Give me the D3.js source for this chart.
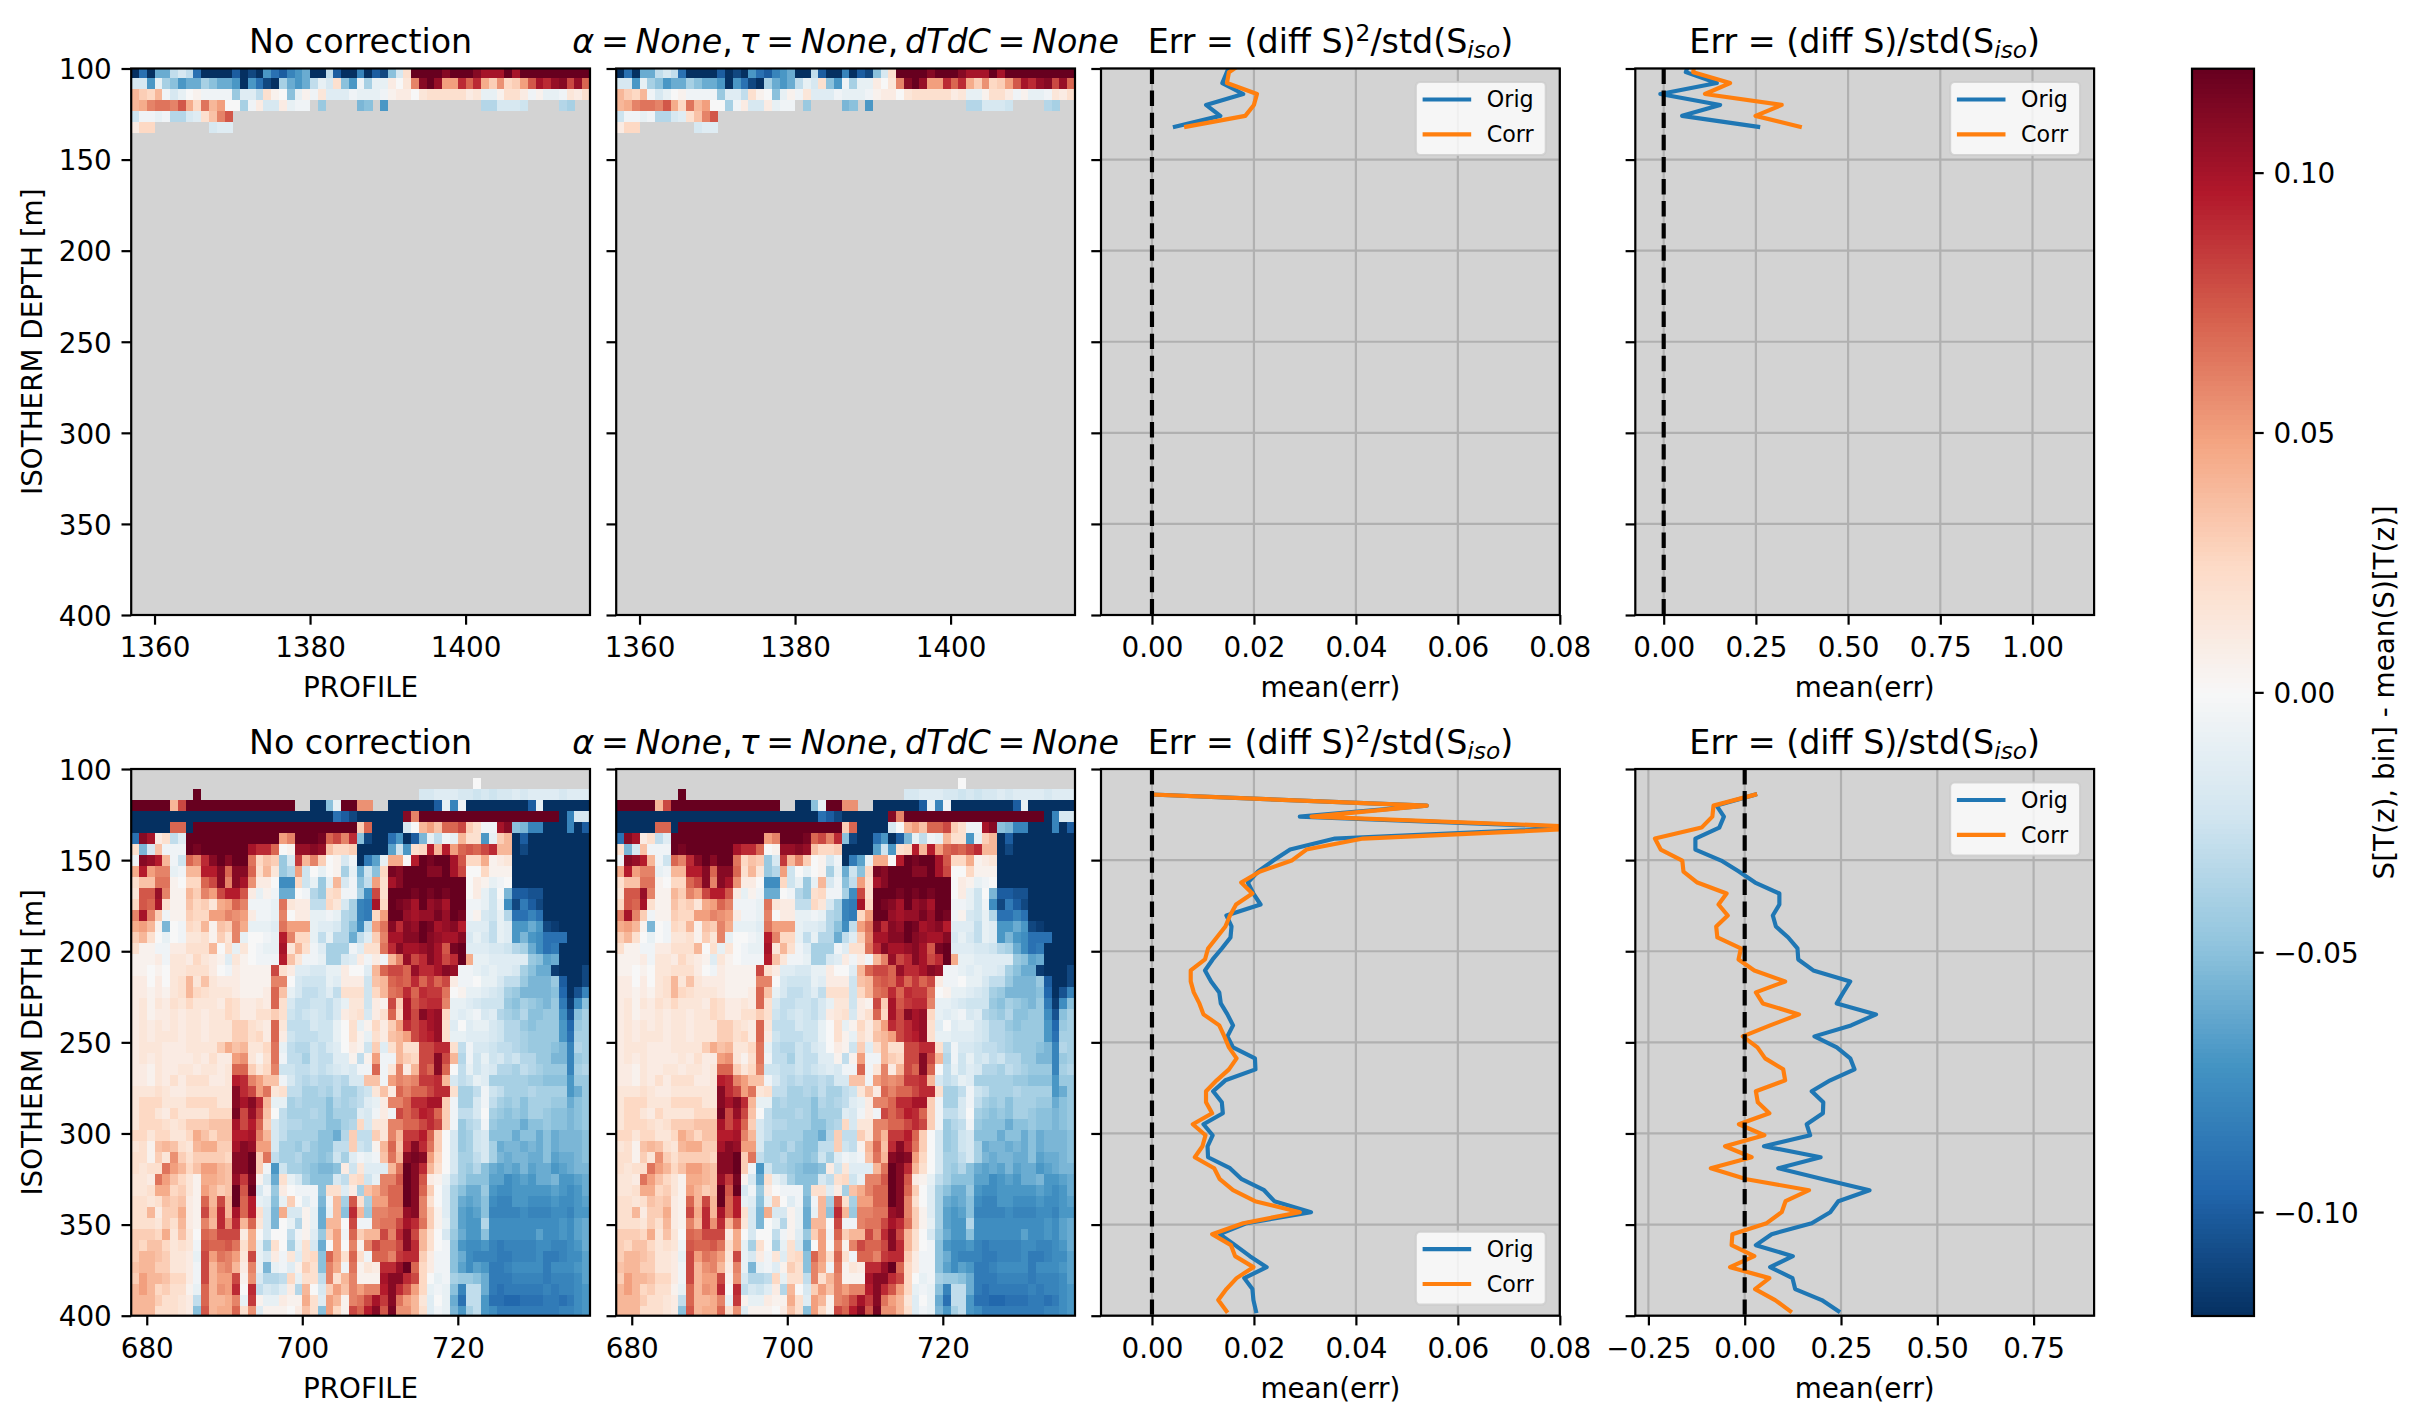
<!DOCTYPE html>
<html>
<head>
<meta charset="utf-8">
<script src="https://cdn.jsdelivr.net/npm/d3@7"></script>
<style>
  body { margin: 0; background: #fff; }
  text { font-family: "DejaVu Sans", sans-serif; fill: #000; }
</style>
</head>
<body>
<svg id="fig" width="2417" height="1423"></svg>
<script>
const N = null;

const depthTicks = [100, 150, 200, 250, 300, 350, 400];
const topProfileTicks = [1360, 1380, 1400];
const bottomProfileTicks = [680, 700, 720];
const errSqTicks = [0, 0.02, 0.04, 0.06, 0.08];
const errTopTicks = [0, 0.25, 0.5, 0.75, 1.0];
const errBottomTicks = [-0.25, 0, 0.25, 0.5, 0.75];
const colorbarTicks = [-0.10, -0.05, 0, 0.05, 0.10];

// salinity anomaly cells, in units of 0.01
const topCells = [
  [-12,-9,-12,-6,-6,-3,-2,-3,-9,-12,-12,-12,-12,-10,-12,-11,-12,-7,-9,-10,-8,-7,-6,-12,-12,-3,-10,-12,-12,-8,-12,-10,-11,-5,-2,2,12,12,12,12,11,12,12,12,11,10,10,10,12,10,12,12,12,12,12,12,12,12,12],
  [-2,-2,-7,-1,-4,-5,-7,-6,-6,-4,-5,-6,-6,-7,-12,-7,-9,-11,-12,-4,-6,-7,-6,-3,-1,-2,2,-5,-7,-0.5,-4,-1,-1,1,0,1.5,6,11,12,10.5,5,5,9,7,9,4.5,3,5.5,2.5,3,5,7.5,10,9,10.5,11,8,10.5,7],
  [4,3,2.5,4,-0.5,-2,-1,0,0.5,-0.5,-0.5,-0.5,-0.5,-4.5,-1.5,-1.5,-3,2,0.5,0,-5,-1,0.5,-0.5,1.5,-1.5,-1.5,-1.5,-0.5,-1,-1,-1,-0.5,0.5,1,1,0,1.5,2,2,2,2,2,1,1.5,-1,-1,0.5,2,2,1,-0.5,0.5,-1,-1,-0.5,1.5,1,2],
  [4,4.5,6,6.5,6.5,6,7.5,4.5,2.5,6.5,4,5,0,0,-4,-0.5,1,-2,-2,1,-1,-0.5,-0.5,N,-4.5,N,N,N,N,-5.5,-5,N,-7,N,N,N,N,N,N,N,N,N,N,N,N,-3.5,-3.5,-2,-2,-2,-2.5,N,N,N,N,-3.5,-4,N,N],
  [-2.5,-0.5,-0.5,-1,-0.5,-3.5,-3.5,-2,-1.5,2,3.5,6,7.5,N,N,N,N,N,N,N,N,N,N,N,N,N,N,N,N,N,N,N,N,N,N,N,N,N,N,N,N,N,N,N,N,N,N,N,N,N,N,N,N,N,N,N,N,N,N],
  [1,2.5,2.5,N,N,N,N,N,N,N,-2,-1.5,-1.5,N,N,N,N,N,N,N,N,N,N,N,N,N,N,N,N,N,N,N,N,N,N,N,N,N,N,N,N,N,N,N,N,N,N,N,N,N,N,N,N,N,N,N,N,N,N]
];

const bottomCells = [
  [N,N,N,N,N,N,N,N,N,N,N,N,N,N,N,N,N,N,N,N,N,N,N,N,N,N,N,N,N,N,N,N,N,N,N,N,N,N,N,N,N,N,N,N,N,N,N,N,N,N,N,N,N,N,N,N,N,N,N],
  [N,N,N,N,N,N,N,N,N,N,N,N,N,N,N,N,N,N,N,N,N,N,N,N,N,N,N,N,N,N,N,N,N,N,N,N,N,N,N,N,N,N,N,N,0,N,N,N,N,N,N,N,N,N,N,N,N,N,N],
  [N,N,N,N,N,N,N,N,12,N,N,N,N,N,N,N,N,N,N,N,N,N,N,N,N,N,N,N,N,N,N,N,N,N,N,N,N,-2,-2,-1.5,-1.5,-1.5,-2,-2,-2.5,-2,-2.5,-2,-2,-1.5,-2,-1.5,-1.5,-1.5,-1.5,-2,-1.5,-1.5,-1.5],
  [12,12,12,12,12,4,8,12,12,12,12,12,12,12,12,12,12,12,12,12,12,N,N,-12,-12,-5,-1,12,12,5.5,5.5,N,N,-12,-12,-12,-12,-12,-12,-10,-1,-8,-0.5,-12,-12,-12,-12,-12,-12,-12,-12,-10,-1,-12,-12,-12,-12,-12,-12],
  [-12,-12,-12,-12,-12,-12,-12,-12,-12,-12,-12,-12,-12,-12,-12,-12,-12,-12,-12,-12,-12,-12,-12,-12,-12,-12,-9,-10,-11,-12,-12,-12,-12,-12,-12,11,6,12,12,12,12,12,12,12,12,12,12,12,12,12,12,12,12,12,12,-12,-8,-2,-2],
  [-12,-12,-12,-12,-12,7,7,-12,12,12,12,12,12,12,12,12,12,12,12,12,12,12,12,12,12,12,12,12,12,3,7,-12,-12,-12,-12,-2,0,4,5,3.5,7,7,8,3,2,-0.5,-0.5,10,11,-5,-5.5,-8,-8,-12,-12,-12,-8,-12,-10],
  [-9,11,10,1,2,-3,-1.5,12,12,12,12,12,12,12,12,12,12,12,12,5,6,12,12,12,11.5,7,8,6,9,-5,-11,-12,-12,-9,-7,-12,-10,-5.5,-1,-3,-0.5,-1,4,2,2,-7,-1,3,4,-12,-10,-12,-12,-12,-12,-12,-12,-12,-12],
  [2,-5.5,-2,3.5,-0.5,-0.5,-0.5,12,11.5,12,12,12,12,12,12,10,9,9,7,0,0.5,10.5,10.5,11,10.5,3.5,2.5,2.5,3,-12,-12,-12,-12,-6.5,-2.5,-7,2,2.5,9.5,4,9.5,5,7,7.5,7,8,9,4,4,-12,-11,-12,-12,-12,-12,-12,-12,-12,-12],
  [-0.5,11,10.5,9.5,4,-0.5,-2.5,7,6,9,11,12,11,12,12,6.5,2.5,3.5,3,-4.5,-2,8.5,4,6,3,0,0.5,-2,-0.5,-12,-8.5,-6.5,-1,4.5,4.5,0,9.5,12,11.5,12,12,10,7.5,2.5,2.5,4.5,0.5,1,1.5,-12,-12,-12,-12,-12,-12,-12,-12,-12,-12],
  [4.5,9.5,5,6,6,-1,-0.5,4,4,9.5,9.5,11,7,11,11,7,2,4,1.5,-4.5,-3.5,5,-2.5,0,-1,0,0.5,-4,-1,-6,-2.5,-5,2.5,11.5,11,12,12,12,11,11,12,10,8,0,0,2.5,0.5,0.5,0.5,-12,-12,-12,-12,-12,-12,-12,-12,-12,-12],
  [2,3.5,3.5,6.5,6.5,0.5,0,2.5,2.5,7,8,11,6,11,10,5.5,1,1,0,-7.5,-7.5,2.5,-2.5,-1,-4.5,-1,4,-2,-0.5,-5,-3,5,2,10,11,12,12,12,12,12,12,12,12,0,1,0.5,-1,-0.5,0,-12,-12,-12,-12,-12,-12,-12,-12,-12,-12],
  [1.5,7.5,7.5,10.5,6,0.5,0.5,4,3,6,5,8,9.5,9.5,7.5,1,-1,0.5,-0.5,-6,-6,0,-0.5,-3.5,-4.5,2,2.5,-0.5,-0.5,-4,-7.5,8,2,12,12,12,11.5,12,11.5,12,11.5,12,12,0,1,-1,-2.5,0,-5.5,-10,-10,-10.5,-10.5,-12,-12,-12,-12,-12,-12],
  [2.5,7.5,7,10,2,0.5,0.5,3.5,2.5,3,1.5,4.5,5,7,6,-0.5,-0.5,-0.5,-1,6.5,1.5,1,1,-3,-3,2.5,1.5,-2,-4,-8,-8.5,10,2.5,12,11.5,11,10,12,10.5,11,10,12,12,-0.5,-0.5,-1,-2.5,-0.5,-7.5,-11,-8.5,-10,-11,-12,-12,-12,-12,-12,-12],
  [6,10,6,3,-0.5,0.5,0.5,3,2.5,2.5,5,5,6,5.5,5,1,-0.5,-0.5,-1,6,0,1,1,-1,-1,-0.5,-1,-3.5,-4,-8,-8.5,2.5,5,12,12,10.5,10,10.5,10.5,11.5,10.5,12,11.5,-0.5,0.5,-2,-2.5,-1,-3.5,-9,-9,-8,-9,-12,-12,-12,-12,-12,-12],
  [4.5,5,4,0.5,-5.5,0,-0.5,2.5,2,4,0.5,3.5,3,6,4.5,-1,-1,-1,-1.5,6.5,5,5,5,-1,-1.5,-1.5,-2,-3.5,-5,-7.5,-3,5,6.5,11,9,11,10.5,12,11.5,10,10.5,11,9.5,-1.5,-1.5,-1.5,-3,-1,-1.5,-7,-7,-6,-7,-11,-11.5,-12,-12,-12,-12],
  [3,4,2,0,-1,0,-0.5,1.5,1.5,2,0.5,3,1.5,6,-1,0,0,-0.5,-1,9.5,6,2.5,2.5,-1,-3,-1,-3.5,-3.5,-6,-3,-1.5,3,6,10,10,11,11,12,11,10.5,10,10,11,-2,-1,-2,-3,-1,-1.5,-7,-5.5,-7,-7.5,-9,-9,-9,-12,-12,-12],
  [2,0.5,0.5,-0.5,-0.5,1,1,2,2,2,4,0,2,-1,1.5,0,-0.5,-1,-1,10,1.5,4,2,-0.5,-1.5,-4,-4,-4,-0.5,-1.5,2,2,6.5,9,11,10,10,10.5,11,10,7.5,11.5,12,-1.5,-1.5,-1.5,-2,-2,-2.5,-3.5,-4,-6,-7.5,-9,-8.5,-12,-12,-12,-12],
  [0.5,0.5,0.5,1,-0.5,1.5,1.5,1,2.5,1.5,1,0.5,-1.5,1.5,0.5,0,-0.5,-0.5,-0.5,9.5,3.5,1.5,-0.5,-0.5,-1,-4,-4,-2,-1.5,1,-0.5,1,-0.5,4,6,10.5,8,9,11,10,8,9,12,4.5,-1,-1,-1.5,-1.5,-1.5,-1.5,-1.5,-4.5,-5,-6.5,-6,-12,-12,-12,-12],
  [0.5,0.5,0,0.5,0,1.5,1.5,2,2,2,1,0,-0.5,1,0.5,0.5,0.5,0.5,8,2,1,-1.5,-1.5,-2,-2,-1,-1,1,0,0,-1.5,4,7,8,8,7,10.5,9,9,10,11,10.5,-0.5,-0.5,-1,-1.5,-1,-1.5,-1.5,-2,-4,-5,-6,-6,-11.5,-12,-12,-12,-11],
  [1,1,0,1,0,1.5,2,4,1.5,3.5,1.5,1,1,1,0.5,0.5,0.5,0.5,6,6,0,-2,-2.5,-2.5,-2.5,-1,-1.5,1,1,1,-2.5,3.5,4,7,7.5,7,9,7,8.5,7,8,1,-0.5,-0.5,0,-1,-1,-2,-3,-3,-4.5,-5.5,-5.5,-5.5,-4.5,-10,-12,-12,-11],
  [1,1,0.5,1,0.5,1.5,2,4,2.5,2,1.5,1.5,1.5,1,0.5,0.5,0.5,1,7,3.5,-1,-2,-3,-3,-2.5,-1.5,-3,2,2,2,-2.5,2.5,4,6.5,7,9,7,9,8.5,8.5,6.5,0,0.5,-1,-1,-1.5,-2,-2.5,-4,-4.5,-5.5,-5.5,-5.5,-5.5,-5,-9.5,-12,-10.5,-8],
  [1,1.5,0.5,1.5,1,2,1.5,2.5,1.5,1.5,1.5,1,2.5,2,1,1,1.5,1,7,2,-2,-3,-3,-2.5,-2.5,-3,-2,-1,1.5,1.5,-2.5,1,0.5,8,3,10,7.5,8.5,9,9,6,-1,-1,-1.5,-2,-2.5,-2.5,-2.5,-4.5,-5,-4,-4.5,-5,-5.5,-4.5,-8.5,-11.5,-7.5,-5],
  [1,1.5,0.5,1,1,1.5,1,1.5,1.5,1,1.5,1.5,2.5,2,1,1,2,2,3,2,-2.5,-3,-2.5,-2,-2.5,-3,-2,1,1.5,2,-2,1,2,7,2.5,10,8,11,10,10.5,2.5,-1,-1.5,-1,-0.5,-2,-1.5,-3.5,-4,-4.5,-3.5,-5,-5,-4.5,-4.5,-7.5,-10.5,-5,-4],
  [1,1.5,1,1.5,1,1.5,1,1.5,1.5,1,1.5,1.5,1.5,3,3,2,1.5,1,7,1.5,-3,-3,-3,-2,-2.5,-2.5,-1,0,2,-1,0.5,2.5,1,3,5,9,8,9,10,10.5,2,-1.5,0,-1.5,-1,-1,-2,-2.5,-3.5,-3.5,-4.5,-5,-4.5,-4.5,-4.5,-7,-9.5,-4.5,-4],
  [1,1.5,1,1.5,1.5,1.5,1,1.5,1.5,1,1.5,1.5,1.5,3,3,2,2.5,1,7,1,-2.5,-3,-3,-3,-2.5,-2.5,-1,0,2,0.5,-1,2,1,3.5,4,5,8,9,9.5,10.5,2,-1,-1,-1.5,-1.5,-1.5,-2,-2.5,-3.5,-3.5,-4,-4.5,-4.5,-4.5,-4.5,-7,-9,-4,-4],
  [1,1.5,1.5,1.5,1,1,1,1.5,1.5,1.5,1.5,3,4.5,3.5,4,1.5,1.5,2.5,6.5,-1,-3,-3.5,-3.5,-2.5,-3,-2,-1.5,0,1,0.5,-2.5,3,-1.5,2,4,2,2,8,8,9,9,2,-3,-0.5,-2,-2,-2.5,-3,-3,-3.5,-4,-4.5,-4.5,-4.5,-5,-5.5,-8,-3.5,-4],
  [1,1.5,1,1.5,1,1,1,1,1.5,1,2,1,1,5,5.5,1.5,0.5,2,6.5,-0.5,-3,-3,-4,-2.5,-3,-3,-1.5,-1.5,0.5,-3,0.5,5,-0.5,-0.5,4,3,2.5,8,8,11,8,4,-3.5,-0.5,-2.5,-1,-2.5,-2,-3,-2.5,-3.5,-3.5,-4.5,-4.5,-5.5,-5.5,-8,-4.5,-4],
  [1,1,0.5,1.5,1,1,1.5,1.5,1,1.5,1.5,1,1.5,7,7,3,1.5,2.5,6,-2.5,-2.5,-3,-3,-2.5,-3,-2.5,-2,-1.5,-2,-0.5,-0.5,7,-0.5,1.5,6,1,4,8,7,11,7,0,-3,-1,-2.5,-1.5,-2,-3.5,-3.5,-4,-3,-3.5,-4,-4.5,-4.5,-4.5,-8,-4,-3.5],
  [1,1,0.5,1.5,1,2,1,2,2,2,1,1,1.5,9.5,9,6,5,3.5,3.5,-0.5,-2,-3,-3.5,-3,-3.5,-3.5,-3,-3.5,-2,-2,3.5,3.5,-0.5,5,6,5.5,6,8.5,8.5,9,4,-2,-3,-2.5,-1,-1.5,-4,-4,-4,-4,-4,-4.5,-4.5,-5,-5,-5,-7,-4.5,-4.5],
  [1.5,1.5,1.5,2,1.5,1,1,1.5,1.5,1.5,1.5,1.5,1.5,11,9,8,5,6.5,1.5,2,-3,-3,-4,-4,-3.5,-4,-3,-4,-4,-3,-2.5,1.5,3.5,1,7,6,7,7,8,9,9,2,-4,-4,-3,-0.5,-2.5,-3,-4,-4,-4,-3.5,-4,-4,-4,-4,-7,-6,-4.5],
  [1.5,2.5,2.5,2.5,1.5,1.5,1.5,2.5,2.5,2.5,2.5,1.5,1.5,11,10,11,9,4,-1,-1,-4,-3.5,-4,-4,-4,-5,-3.5,-4,-3.5,-3,-1.5,-1,1,6,6,7,9,9,10,10,3,-0.5,-4,-4,-2,-0.5,-3,-4,-4.5,-4,-5,-4,-4,-4,-4.5,-4.5,-6,-5,-4.5],
  [1.5,2.5,2.5,1.5,1,2.5,1.5,1.5,1.5,1.5,2.5,2.5,2.5,11.5,8,10.5,8,3.5,0,-3,-4,-4,-4,-3.5,-4,-5,-4,-4,-4,-1.5,-2,-0.5,1,-0.5,8,7,8,9.5,9,7,3,-0.5,-3,-3,-2,0,-4,-4.5,-5,-4.5,-5,-4,-4,-4.5,-5,-5,-5.5,-5,-4.5],
  [1.5,2.5,2.5,2.5,2,1.5,2,3,3,3,3.5,3.5,3.5,10,8,9.5,7,3,-2,-3,-3.5,-3.5,-4,-4,-4,-5,-5,-4,-3.5,2.5,-2,1.5,1.5,6,6,7,7,8,9,8,3,-0.5,-4.5,-3.5,-3,-0.5,-4.5,-5,-5,-5,-6,-5,-5,-4.5,-5,-5,-5.5,-5,-4.5],
  [2.5,2.5,1.5,2.5,2.5,1.5,1.5,2.5,4.5,3.5,2.5,3.5,3.5,9.5,9.5,10,6,4,-2,-3,-4,-4,-4,-4,-5,-5,-6,-3.5,3,-3,-3,3,1.5,6,4,8.5,8.5,9.5,7,3,0,-2,-4.5,-4,-2.5,-2,-5,-5,-5,-6,-5,-5,-6,-5,-6,-5.5,-5.5,-5.5,-5],
  [1.5,2,0.5,3.5,4,3.5,2,1.5,4,4.5,4.5,3,3,10,11,10.5,5,5,-2,-4,-4,-4.5,-3.5,-4.5,-5,-5,-3,-3,3,-2.5,-3,0.5,4,7,3.5,9,11,9,6.5,3,0,-2,-4.5,-4,-2.5,-2,-4,-6,-5.5,-5.5,-6,-5.5,-6,-5,-6,-5.5,-5.5,-5.5,-5],
  [2,2,0.5,3,1.5,5.5,3,2,3,3,3,3,2.5,11,11,12,3,6.5,-3,-4,-4,-3.5,-4.5,-4.5,-5,-4.5,-2.5,-4,-1.5,-0.5,-1,-0.5,3.5,6.5,4,11,11.5,11,5,2.5,0,-2,-4,-4,-3,-2,-4,-5.5,-6,-5.5,-5.5,-6,-6,-5,-6.5,-6,-6,-5.5,-5],
  [2,1.5,2,2,6.5,5,4,2.5,3.5,5,5,4,3.5,11,11,12,3,-0.5,-7,-2.5,-4,-4,-4.5,-5,-5.5,-5.5,-5,1,-2.5,1.5,-1.5,-1.5,-1.5,4,6.5,12,11,9,4,2,0,-2,-4,-4.5,-3.5,-5,-6,-6.5,-6,-6.5,-5.5,-6.5,-6,-6,-7,-6.5,-6,-5.5,-5.5],
  [1.5,1.5,1,6.5,5,3.5,2.5,1.5,0.5,4.5,4.5,4,3.5,10.5,8.5,11.5,0.5,-2,-6,2,-1,-2,-4,-5,-5,-5,-2,-3,2,2.5,-2.5,-1,6,6,7.5,12,11,7.5,1,0.5,-1,-3,-4,-5,-5,-5,-6.5,-6.5,-7.5,-7,-6.5,-7,-6,-6,-5.5,-7,-7,-6.5,-6],
  [1.5,1.5,2,4.5,4.5,2.5,3,1.5,0.5,5,4,3,3.5,12,7.5,12,-2,-0.5,-4.5,1,0,-0.5,-0.5,-0.5,-5,2,2,-1.5,1,-4,3.5,4.5,6,7,7,12,11,7,3,0,-1.5,-4,-5,-6,-6,-4.5,-7,-7.5,-7.5,-7,-7,-7,-7,-7,-6.5,-7,-7.5,-7,-6],
  [2,2,1.5,2,3.5,3,3.5,1,0.5,7,4,8,4,12,7,9.5,-1,-1.5,-5,-1,3,0,-1.5,-0.5,-5.5,-0.5,4,-4,7.5,2,-4,5,5,7,7,12,11,6,2,0,-1.5,-4,-6,-6.5,-6,-5,-7.5,-8,-8,-7,-7,-7.5,-7.5,-7.5,-7,-7.5,-7.5,-7,-6.5],
  [2,2,4,1,3,3,4.5,1,0.5,8,4.5,9,4,10,7,9.5,2,-2,-5.5,4.5,-2,-2,0.5,-1,-6,-1,4,-5,9,4,-4.5,6,6,6.5,6.5,10.5,11,6,3,0.5,-1.5,-4,-6.5,-7,-6.5,-5,-8,-8,-8,-8,-7.5,-8,-8,-8,-7.5,-7.5,-8,-7,-7],
  [2,2,2,1.5,3,2,4,1,0.5,6,4,9,5.5,9,4,7,1.5,-2,-5.5,0,-1,-3.5,0.5,-1,-6,4,4,0,8,-0.5,-0.5,6,6.5,6.5,8,10,9,6.5,3,0.5,-1,-4,-6.5,-7,-7,-3.5,-7.5,-7.5,-7.5,-7.5,-7.5,-7.5,-7.5,-7.5,-7.5,-7,-7.5,-6.5,-6],
  [3,3,3,2.5,4.5,1.5,3.5,1.5,0,7,6.5,8,8,8,1,4.5,0,-2,0,0,-3,-0.5,0.5,-1.5,-4.5,3,5,-0.5,7,3,4,4,8,6,9,11,8,4,2,0,-2,-4.5,-6,-7,-7,-5,-7.5,-7.5,-7.5,-7.5,-7.5,-7.5,-6.5,-7.5,-7.5,-7,-7.5,-6.5,-6],
  [3,2.5,3.5,3.5,2.5,1.5,2,1.5,-0.5,7.5,7,7,7.5,6.5,2,4.5,-1,-4,2,0,-4,-1,2,-2,-6,0,5,0,6,0.5,6,8,7,7,8,11,9,4,2,0,-0.5,-5,-7,-7.5,-7.5,-7,-8,-8.5,-8,-8,-8,-8,-7.5,-7.5,-8,-8,-7.5,-7,-6],
  [3,4,4,3.5,3,1.5,1.5,1,-1,8,5,6.5,6,5,1.5,8,-1,-2,1,-0.5,1.5,-1.5,2,2.5,-5,7,5,2,7,2,-0.5,7,7,6,8.5,9,9,3,1,-0.5,-0.5,-5,-6,-7.5,-8,-8,-8,-8.5,-8.5,-8,-8,-8,-7.5,-8.5,-8.5,-8,-7.5,-7.5,-6.5],
  [3.5,4,4,3,3,1.5,1.5,1,-0.5,8,4,5.5,6,4,1,6,-1,-5.5,-1,-0.5,-1.5,0.5,3,2,-5,6,4.5,-0.5,6.5,0.5,1.5,1,9,9,10.5,12,7,2.5,1,-0.5,-0.5,-5,-6.5,-7.5,-6.5,-7,-8.5,-8.5,-8,-7.5,-7.5,-7.5,-7.5,-8.5,-7.5,-7.5,-7.5,-7,-6.5],
  [3,5,4,4,3.5,2.5,2.5,1,-0.5,8,4,5,5,8,0.5,5.5,-2,-3.5,-3.5,-3,2.5,-1,2,2,-3,6,2,4,6,0.5,0.5,0.5,10,11,11,9,8,2.5,0,-1,-0.5,-4,-4.5,-4.5,-5,-6,-8.5,-8.5,-8.5,-8,-8,-8,-8,-8.5,-8,-8,-8,-7.5,-6.5],
  [4,5,4,2.5,3,2,2,0.5,-1,7,4,5.5,5,9,0,9,-3,-2,-2.5,-1.5,1,-3.5,4,0,-2,3,5,3.5,6,5,6,6,9.5,11,9,7.5,5,2.5,-1,-0.5,-1,-5,-8,-3,-3,-6,-8.5,-9,-8.5,-8.5,-8.5,-8.5,-8.5,-8,-8.5,-8,-8,-7.5,-7],
  [4,4,4,3,2,2,1.5,1,-3,7,4,4,4.5,6,-1,8.5,0.5,-1,-1,1,0.5,0.5,4.5,2,-1.5,5,4,0.5,6,6.5,8,10,8.5,11,6.5,5,4,1.5,-1.5,0,-1,-6,-9,-3,-3,-7,-9,-9,-9.5,-9.5,-9,-9,-9,-8.5,-8.5,-9,-8.5,-7.5,-7],
  [4,4,4,2,2,2,1.5,1,-5,7.5,4,4.5,4.5,7,2,5.5,-1.5,0.5,0.5,0.5,0,1,3.5,2,-5,5,2.5,0.5,8,7,9.5,11,7.5,11.5,5.5,5.5,4,2,-1.5,-0.5,-1,-5.5,-7,-4,-3,-7,-7.5,-8.5,-8.5,-8.5,-8.5,-8.5,-8.5,-8.5,-8.5,-8,-8,-7.5,-7]
];

// mean error profiles, top row starts one bin above the axis and gets clipped
const topDepths = [96, 102, 108, 114, 120, 126, 132];
const topErrSqOrig = [0.0155, 0.0147, 0.0138, 0.0179, 0.0106, 0.0134, 0.0045];
const topErrSqCorr = [0.0183, 0.0151, 0.0147, 0.0206, 0.02, 0.0183, 0.0067];
const topErrOrig = [0.07, 0.06, 0.144, -0.009, 0.153, 0.05, 0.256];
const topErrCorr = [0.085, 0.08, 0.18, 0.112, 0.32, 0.249, 0.369];

const bottomErrSqOrig = [0.0002,0.0539,0.029,0.085,0.0359,0.0271,0.0238,0.0208,0.0188,0.0199,0.0213,0.0146,0.0156,0.0154,0.0137,0.0119,0.0104,0.0116,0.0132,0.0135,0.0148,0.0159,0.0148,0.0159,0.0202,0.0203,0.0144,0.012,0.0137,0.0139,0.0101,0.0119,0.0109,0.011,0.0153,0.0176,0.022,0.024,0.0312,0.0186,0.0133,0.0163,0.0192,0.0225,0.0181,0.0197,0.0199,0.0204];
const bottomErrSqCorr = [0.0001,0.0539,0.0313,0.088,0.0414,0.0303,0.0274,0.0212,0.0175,0.0197,0.0165,0.0153,0.0144,0.0127,0.011,0.0104,0.0076,0.0076,0.0082,0.0093,0.0101,0.0132,0.0142,0.0151,0.0166,0.0151,0.0127,0.0106,0.0106,0.0118,0.008,0.0105,0.0099,0.0084,0.0122,0.0133,0.0159,0.0202,0.029,0.0179,0.0118,0.0155,0.0163,0.0199,0.0166,0.0146,0.013,0.0146];
const bottomErrOrig = [0.027,-0.073,-0.054,-0.066,-0.128,-0.128,-0.061,-0.015,0.027,0.09,0.09,0.073,0.081,0.113,0.137,0.139,0.178,0.274,0.256,0.239,0.341,0.276,0.181,0.239,0.274,0.285,0.222,0.174,0.204,0.203,0.161,0.17,0.05,0.197,0.087,0.204,0.324,0.243,0.222,0.174,0.07,0.029,0.125,0.066,0.124,0.131,0.2,0.243];
const bottomErrCorr = [0.027,-0.081,-0.084,-0.112,-0.233,-0.218,-0.162,-0.159,-0.123,-0.047,-0.068,-0.044,-0.074,-0.071,-0.01,-0.016,0.025,0.105,0.029,0.047,0.141,0.066,-0.005,0.033,0.053,0.1,0.105,0.029,0.034,0.064,-0.015,0.051,-0.051,0.018,-0.088,0.005,0.167,0.106,0.096,0.057,-0.032,-0.034,0.025,-0.038,0.064,0.027,0.079,0.118];

const rdBuStops = ['#053061','#2166ac','#4393c3','#92c5de','#d1e5f0','#f7f7f7','#fddbc7','#f4a582','#d6604d','#b2182b','#67001f'];
const colorScale = d3.scaleLinear()
  .domain(d3.range(11).map(i => -0.12 + i * 0.024))
  .range(rdBuStops)
  .clamp(true);

const svg = d3.select('#fig');
const TICK = 9.7, PAD = 9.7, FS = 27.8, TITLE_FS = 33.3;
const ROWS = [{ top: 68.5, bottom: 615 }, { top: 769, bottom: 1315.7 }];
const COLS = [131.2, 616.2, 1101, 1635.3];
const WIDTH = 458.8;
const BLUE = '#1f77b4', ORANGE = '#ff7f0e', BG = '#d3d3d3', GRID = '#b0b0b0';

const yDepth = row => d3.scaleLinear().domain([100, 400]).range([row.top, row.bottom]);
let clipCount = 0;

// ticks, spines, labels shared by every panel
function drawFrame(g, row, x, y, xTicks, fmt, showYLabels) {
  const bottom = row.bottom;
  const xAxis = d3.axisBottom(x).tickValues(xTicks).tickFormat(fmt).tickSize(TICK).tickPadding(PAD + 3);
  const yAxis = d3.axisLeft(y).tickValues(depthTicks).tickSize(TICK).tickPadding(PAD);
  if (!showYLabels) yAxis.tickFormat('');
  const gx = g.append('g').attr('transform', `translate(0,${bottom})`).call(xAxis);
  const gy = g.append('g').attr('transform', `translate(${x.range()[0]},0)`).call(yAxis);
  [gx, gy].forEach(a => {
    a.select('.domain').remove();
    a.selectAll('line').attr('stroke', '#000').attr('stroke-width', 2.2);
    a.selectAll('text').attr('font-size', FS).attr('font-family', '"DejaVu Sans"').attr('fill', '#000');
  });
  gy.selectAll('text').attr('dy', '0.37em');
  g.append('rect')
    .attr('x', x.range()[0]).attr('y', row.top)
    .attr('width', x.range()[1] - x.range()[0]).attr('height', row.bottom - row.top)
    .attr('fill', 'none').attr('stroke', '#000').attr('stroke-width', 2.2);
}

function heatPanel(left, row, cells, firstProfile, xTicks, showYLabels, xLabel) {
  const g = svg.append('g');
  const x = d3.scaleLinear().domain([firstProfile, firstProfile + 59]).range([left, left + WIDTH]);
  const y = yDepth(row);
  g.append('rect').attr('x', left).attr('y', row.top).attr('width', WIDTH).attr('height', row.bottom - row.top).attr('fill', BG);

  const id = 'clip' + (clipCount++);
  g.append('clipPath').attr('id', id).append('rect')
    .attr('x', left).attr('y', row.top).attr('width', WIDTH).attr('height', row.bottom - row.top);

  const flat = [];
  cells.forEach((vals, r) => vals.forEach((v, c) => {
    if (v !== null) flat.push({ r, c, v: v / 100 });
  }));
  g.append('g').attr('clip-path', `url(#${id})`).attr('shape-rendering', 'crispEdges')
    .selectAll('rect').data(flat).join('rect')
    .attr('x', d => x(firstProfile + d.c))
    .attr('width', d => x(firstProfile + d.c + 1) - x(firstProfile + d.c) + 0.3)
    .attr('y', d => y(99 + 6.03 * d.r))
    .attr('height', d => y(105.03 + 6.03 * d.r) - y(99 + 6.03 * d.r) + 0.3)
    .attr('fill', d => colorScale(d.v));

  drawFrame(g, row, x, y, xTicks, d3.format('d'), showYLabels);
  if (xLabel) {
    g.append('text').attr('x', left + WIDTH / 2).attr('y', row.bottom + 82)
      .attr('text-anchor', 'middle').attr('font-size', FS).text('PROFILE');
  }
  if (showYLabels) {
    g.append('text')
      .attr('transform', `translate(42,${(row.top + row.bottom) / 2}) rotate(-90)`)
      .attr('text-anchor', 'middle').attr('font-size', FS).text('ISOTHERM DEPTH [m]');
  }
}

function errPanel(left, row, xDomain, xTicks, fmt, depths, orig, corr, legendPos) {
  const g = svg.append('g');
  const x = d3.scaleLinear().domain(xDomain).range([left, left + WIDTH]);
  const y = yDepth(row);
  g.append('rect').attr('x', left).attr('y', row.top).attr('width', WIDTH).attr('height', row.bottom - row.top).attr('fill', BG);

  // grid
  g.append('g').selectAll('line').data(xTicks).join('line')
    .attr('x1', d => x(d)).attr('x2', d => x(d)).attr('y1', row.top).attr('y2', row.bottom)
    .attr('stroke', GRID).attr('stroke-width', 2.2);
  g.append('g').selectAll('line').data(depthTicks).join('line')
    .attr('x1', left).attr('x2', left + WIDTH).attr('y1', d => y(d)).attr('y2', d => y(d))
    .attr('stroke', GRID).attr('stroke-width', 2.2);

  const id = 'clip' + (clipCount++);
  g.append('clipPath').attr('id', id).append('rect')
    .attr('x', left).attr('y', row.top).attr('width', WIDTH).attr('height', row.bottom - row.top);
  const plot = g.append('g').attr('clip-path', `url(#${id})`);
  const line = d3.line().x(d => x(d[0])).y(d => y(d[1]));
  [[orig, BLUE], [corr, ORANGE]].forEach(([vals, color]) => {
    plot.append('path')
      .attr('d', line(vals.map((v, i) => [v, depths[i]])))
      .attr('fill', 'none').attr('stroke', color).attr('stroke-width', 4.17)
      .attr('stroke-linecap', 'square').attr('stroke-linejoin', 'round');
  });
  plot.append('line')
    .attr('x1', x(0)).attr('x2', x(0)).attr('y1', row.top).attr('y2', row.bottom)
    .attr('stroke', '#000').attr('stroke-width', 4.17).attr('stroke-dasharray', '15.4 6.7');

  drawFrame(g, row, x, y, xTicks, fmt, false);
  g.append('text').attr('x', left + WIDTH / 2).attr('y', row.bottom + 82)
    .attr('text-anchor', 'middle').attr('font-size', FS).text('mean(err)');

  // legend
  const boxW = 130, boxH = 73;
  const bx = left + WIDTH - boxW - 14;
  const by = legendPos === 'top' ? row.top + 13.5 : row.bottom - boxH - 11;
  const lg = g.append('g').attr('transform', `translate(${bx},${by})`);
  lg.append('rect').attr('width', boxW).attr('height', boxH).attr('rx', 4.4)
    .attr('fill', '#fff').attr('fill-opacity', 0.8).attr('stroke', '#ccc').attr('stroke-opacity', 0.8).attr('stroke-width', 2.2);
  [['Orig', BLUE, 17.5], ['Corr', ORANGE, 52.3]].forEach(([name, color, ly]) => {
    lg.append('line').attr('x1', 8.9).attr('x2', 53.3).attr('y1', ly).attr('y2', ly)
      .attr('stroke', color).attr('stroke-width', 4.17).attr('stroke-linecap', 'square');
    lg.append('text').attr('x', 71).attr('y', ly + 7.7).attr('font-size', 22.2).text(name);
  });
}

function titles(row) {
  const base = row.top - 15.5;
  const center = i => COLS[i] + WIDTH / 2;
  svg.append('text').attr('x', center(0)).attr('y', base).attr('text-anchor', 'middle')
    .attr('font-size', TITLE_FS).text('No correction');

  const eq = '\u2009=\u2009', comma = ',\u2009';
  const t2 = svg.append('text').attr('x', center(1)).attr('y', base).attr('text-anchor', 'middle').attr('font-size', TITLE_FS);
  [['\u03b1', 1], [eq, 0], ['None', 1], [comma, 0], ['\u03c4', 1], [eq, 0], ['None', 1], [comma, 0], ['dTdC', 1], [eq, 0], ['None', 1]]
    .forEach(([s, it]) => t2.append('tspan').attr('font-style', it ? 'italic' : 'normal').text(s));

  const t3 = svg.append('text').attr('x', center(2)).attr('y', base).attr('text-anchor', 'middle').attr('font-size', TITLE_FS);
  t3.append('tspan').text('Err = (diff S)');
  t3.append('tspan').attr('dy', -12).attr('font-size', 23.3).text('2');
  t3.append('tspan').attr('dy', 12).text('/std(S');
  t3.append('tspan').attr('dy', 5).attr('font-size', 23.3).attr('font-style', 'italic').text('iso');
  t3.append('tspan').attr('dy', -5).text(')');

  const t4 = svg.append('text').attr('x', center(3)).attr('y', base).attr('text-anchor', 'middle').attr('font-size', TITLE_FS);
  t4.append('tspan').text('Err = (diff S)/std(S');
  t4.append('tspan').attr('dy', 5).attr('font-size', 23.3).attr('font-style', 'italic').text('iso');
  t4.append('tspan').attr('dy', -5).text(')');
}

const bottomDepths = d3.range(2, 50).map(r => 102 + 6.03 * r);
const fmt2 = d => d3.format('.2f')(d).replace('-', '\u2212');

// top row
heatPanel(COLS[0], ROWS[0], topCells, 1357, topProfileTicks, true, true);
heatPanel(COLS[1], ROWS[0], topCells, 1357, topProfileTicks, false, false);
errPanel(COLS[2], ROWS[0], [-0.01, 0.08], errSqTicks, fmt2, topDepths, topErrSqOrig, topErrSqCorr, 'top');
errPanel(COLS[3], ROWS[0], [-0.077, 1.167], errTopTicks, fmt2, topDepths, topErrOrig, topErrCorr, 'top');
titles(ROWS[0]);

// bottom row
heatPanel(COLS[0], ROWS[1], bottomCells, 678, bottomProfileTicks, true, true);
heatPanel(COLS[1], ROWS[1], bottomCells, 678, bottomProfileTicks, false, false);
errPanel(COLS[2], ROWS[1], [-0.01, 0.08], errSqTicks, fmt2, bottomDepths, bottomErrSqOrig, bottomErrSqCorr, 'bottom');
errPanel(COLS[3], ROWS[1], [-0.284, 0.907], errBottomTicks, fmt2, bottomDepths, bottomErrOrig, bottomErrCorr, 'top');
titles(ROWS[1]);

// colorbar
const cb = { x: 2192, w: 62, top: 68.7, bottom: 1316 };
const yCb = d3.scaleLinear().domain([-0.12, 0.12]).range([cb.bottom, cb.top]);
const levels = d3.range(256).map(i => -0.12 + (i * 0.24) / 256);
const cbG = svg.append('g');
cbG.append('g').attr('shape-rendering', 'crispEdges').selectAll('rect').data(levels).join('rect')
  .attr('x', cb.x).attr('width', cb.w)
  .attr('y', d => yCb(d + 0.24 / 256))
  .attr('height', d => yCb(d) - yCb(d + 0.24 / 256) + 0.5)
  .attr('fill', d => colorScale(d + 0.12 / 256));
cbG.append('rect').attr('x', cb.x).attr('y', cb.top).attr('width', cb.w).attr('height', cb.bottom - cb.top)
  .attr('fill', 'none').attr('stroke', '#000').attr('stroke-width', 2.2);
const cbAxis = d3.axisRight(yCb).tickValues(colorbarTicks).tickFormat(fmt2).tickSize(TICK).tickPadding(PAD);
const cbA = cbG.append('g').attr('transform', `translate(${cb.x + cb.w},0)`).call(cbAxis);
cbA.select('.domain').remove();
cbA.selectAll('line').attr('stroke', '#000').attr('stroke-width', 2.2);
cbA.selectAll('text').attr('font-size', FS).attr('font-family', '"DejaVu Sans"').attr('fill', '#000').attr('dy', '0.37em');
svg.append('text')
  .attr('transform', `translate(2393.5,${(cb.top + cb.bottom) / 2}) rotate(-90)`)
  .attr('text-anchor', 'middle').attr('font-size', FS).text('S[T(z), bin] - mean(S)[T(z)]');
</script>
</body>
</html>
